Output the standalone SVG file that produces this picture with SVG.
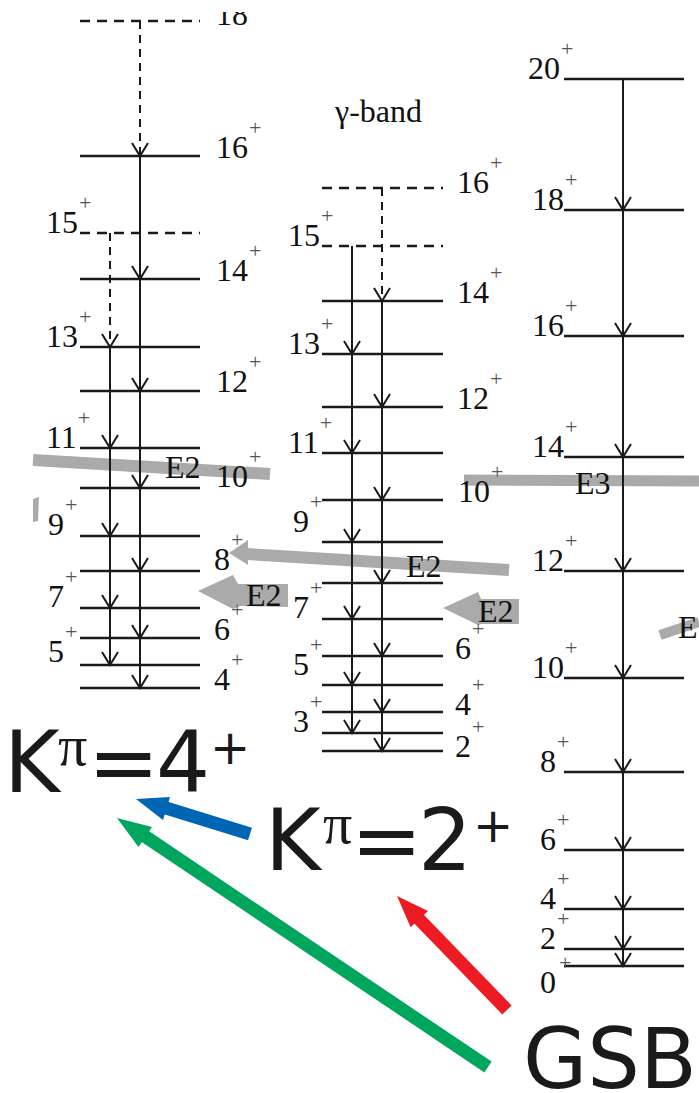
<svg xmlns="http://www.w3.org/2000/svg" width="699" height="1093" viewBox="0 0 699 1093">
<style>
.lv{stroke:#1a1a1a;stroke-width:2.5;fill:none}
.lvd{stroke-dasharray:10 7}
.tr{stroke:#1a1a1a;stroke-width:2;fill:none;marker-end:url(#v)}
.trd{stroke-dasharray:8 6}
.lb{font-family:"Liberation Serif","Times New Roman",serif;font-size:32px;fill:#111}
.sup{font-size:22px;fill:#555}
.gr{stroke:#aaa;fill:none}
.gf{fill:#aaa}
.big{font-family:"DejaVu Sans",sans-serif;font-size:85px;fill:#1a1a1a}
.pi{font-family:"Liberation Serif",serif;font-size:58px;fill:#1a1a1a}
.bsup{font-family:"DejaVu Sans",sans-serif;font-size:48px;fill:#1a1a1a}
</style>
<defs>
<marker id="v" markerUnits="userSpaceOnUse" orient="auto" refX="0" refY="0" markerWidth="20" markerHeight="20" overflow="visible">
<path d="M-13,-8 L0,0 L-13,8" fill="none" stroke="#1a1a1a" stroke-width="2"/>
</marker>
<clipPath id="topclip"><rect x="0" y="12" width="699" height="1081"/></clipPath>
</defs>
<rect width="699" height="1093" fill="#fff"/>

<g id="gray-transitions">
<line class="gr" x1="33" y1="460" x2="270" y2="474" stroke-width="12"/>
<polygon class="gf" points="33,499 39,497 38,521 33,522"/>
<line class="gr" x1="246" y1="554" x2="509" y2="570" stroke-width="12"/>
<polygon class="gf" points="229,553 248,540 248,565"/>
<polygon class="gf" points="198,591 233,575 238,584 288,584 288,607 240,606 233,609"/>
<polygon class="gf" points="443,608 478,592 481,599 519,599 519,624 481,624 478,625"/>
<line class="gr" x1="464" y1="480" x2="699" y2="481" stroke-width="11"/>
<line class="gr" x1="660" y1="635" x2="699" y2="622" stroke-width="10"/>
</g>

<g id="band-K4">
<line class="lv lvd" x1="80" y1="21" x2="200" y2="21"/>
<line class="lv" x1="80" y1="156" x2="200" y2="156"/>
<line class="lv lvd" x1="80" y1="233" x2="200" y2="233"/>
<line class="lv" x1="80" y1="279" x2="200" y2="279"/>
<line class="lv" x1="80" y1="347" x2="200" y2="347"/>
<line class="lv" x1="80" y1="391" x2="200" y2="391"/>
<line class="lv" x1="80" y1="448" x2="200" y2="448"/>
<line class="lv" x1="80" y1="488" x2="200" y2="488"/>
<line class="lv" x1="80" y1="536" x2="200" y2="536"/>
<line class="lv" x1="80" y1="571" x2="200" y2="571"/>
<line class="lv" x1="80" y1="608" x2="200" y2="608"/>
<line class="lv" x1="80" y1="638" x2="200" y2="638"/>
<line class="lv" x1="80" y1="665" x2="200" y2="665"/>
<line class="lv" x1="80" y1="688" x2="200" y2="688"/>
<text class="lb" x="216" y="25" clip-path="url(#topclip)">18</text>
<text class="lb" x="216" y="158">16<tspan class="sup" dx="1" dy="-23">+</tspan></text>
<text class="lb" x="46" y="233">15<tspan class="sup" dx="1" dy="-23">+</tspan></text>
<text class="lb" x="216" y="281">14<tspan class="sup" dx="1" dy="-23">+</tspan></text>
<text class="lb" x="46" y="347">13<tspan class="sup" dx="1" dy="-23">+</tspan></text>
<text class="lb" x="216" y="392">12<tspan class="sup" dx="1" dy="-23">+</tspan></text>
<text class="lb" x="46" y="448">11<tspan class="sup" dx="1" dy="-23">+</tspan></text>
<text class="lb" x="216" y="487">10<tspan class="sup" dx="1" dy="-23">+</tspan></text>
<text class="lb" x="48" y="535">9<tspan class="sup" dx="1" dy="-23">+</tspan></text>
<text class="lb" x="214" y="570">8<tspan class="sup" dx="1" dy="-23">+</tspan></text>
<text class="lb" x="48" y="607">7<tspan class="sup" dx="1" dy="-23">+</tspan></text>
<text class="lb" x="214" y="640">6<tspan class="sup" dx="1" dy="-23">+</tspan></text>
<text class="lb" x="48" y="662">5<tspan class="sup" dx="1" dy="-23">+</tspan></text>
<text class="lb" x="214" y="690">4<tspan class="sup" dx="1" dy="-23">+</tspan></text>
</g>

<g id="band-gamma">
<text class="lb" x="335" y="122" style="font-size:32px">γ-band</text>
<line class="lv lvd" x1="322" y1="188" x2="443" y2="188"/>
<line class="lv lvd" x1="322" y1="246" x2="443" y2="246"/>
<line class="lv" x1="322" y1="301" x2="443" y2="301"/>
<line class="lv" x1="322" y1="354" x2="443" y2="354"/>
<line class="lv" x1="322" y1="407" x2="443" y2="407"/>
<line class="lv" x1="322" y1="453" x2="443" y2="453"/>
<line class="lv" x1="322" y1="500" x2="443" y2="500"/>
<line class="lv" x1="322" y1="542" x2="443" y2="542"/>
<line class="lv" x1="322" y1="583" x2="443" y2="583"/>
<line class="lv" x1="322" y1="619" x2="443" y2="619"/>
<line class="lv" x1="322" y1="656" x2="443" y2="656"/>
<line class="lv" x1="322" y1="685" x2="443" y2="685"/>
<line class="lv" x1="322" y1="712" x2="443" y2="712"/>
<line class="lv" x1="322" y1="733" x2="443" y2="733"/>
<line class="lv" x1="322" y1="751" x2="443" y2="751"/>
<text class="lb" x="457" y="193">16<tspan class="sup" dx="1" dy="-23">+</tspan></text>
<text class="lb" x="288" y="246">15<tspan class="sup" dx="1" dy="-23">+</tspan></text>
<text class="lb" x="457" y="303">14<tspan class="sup" dx="1" dy="-23">+</tspan></text>
<text class="lb" x="288" y="354">13<tspan class="sup" dx="1" dy="-23">+</tspan></text>
<text class="lb" x="457" y="409">12<tspan class="sup" dx="1" dy="-23">+</tspan></text>
<text class="lb" x="288" y="453">11<tspan class="sup" dx="1" dy="-23">+</tspan></text>
<text class="lb" x="458" y="502">10<tspan class="sup" dx="1" dy="-23">+</tspan></text>
<text class="lb" x="293" y="532">9<tspan class="sup" dx="1" dy="-23">+</tspan></text>
<text class="lb" x="293" y="618">7<tspan class="sup" dx="1" dy="-23">+</tspan></text>
<text class="lb" x="455" y="659">6<tspan class="sup" dx="1" dy="-23">+</tspan></text>
<text class="lb" x="293" y="675">5<tspan class="sup" dx="1" dy="-23">+</tspan></text>
<text class="lb" x="455" y="715">4<tspan class="sup" dx="1" dy="-23">+</tspan></text>
<text class="lb" x="293" y="732">3<tspan class="sup" dx="1" dy="-23">+</tspan></text>
<text class="lb" x="455" y="757">2<tspan class="sup" dx="1" dy="-23">+</tspan></text>
</g>

<g id="band-GSB">
<line class="lv" x1="564" y1="79" x2="684" y2="79"/>
<line class="lv" x1="564" y1="210" x2="684" y2="210"/>
<line class="lv" x1="564" y1="336" x2="684" y2="336"/>
<line class="lv" x1="564" y1="457" x2="684" y2="457"/>
<line class="lv" x1="564" y1="571" x2="684" y2="571"/>
<line class="lv" x1="564" y1="678" x2="684" y2="678"/>
<line class="lv" x1="564" y1="772" x2="684" y2="772"/>
<line class="lv" x1="564" y1="850" x2="684" y2="850"/>
<line class="lv" x1="564" y1="909" x2="684" y2="909"/>
<line class="lv" x1="564" y1="949" x2="684" y2="949"/>
<line class="lv" x1="564" y1="966" x2="684" y2="966"/>
<text class="lb" x="528" y="79">20<tspan class="sup" dx="1" dy="-23">+</tspan></text>
<text class="lb" x="532" y="210">18<tspan class="sup" dx="1" dy="-23">+</tspan></text>
<text class="lb" x="532" y="336">16<tspan class="sup" dx="1" dy="-23">+</tspan></text>
<text class="lb" x="532" y="457">14<tspan class="sup" dx="1" dy="-23">+</tspan></text>
<text class="lb" x="532" y="571">12<tspan class="sup" dx="1" dy="-23">+</tspan></text>
<text class="lb" x="532" y="678">10<tspan class="sup" dx="1" dy="-23">+</tspan></text>
<text class="lb" x="540" y="772">8<tspan class="sup" dx="1" dy="-23">+</tspan></text>
<text class="lb" x="540" y="850">6<tspan class="sup" dx="1" dy="-23">+</tspan></text>
<text class="lb" x="540" y="909">4<tspan class="sup" dx="1" dy="-23">+</tspan></text>
<text class="lb" x="540" y="949">2<tspan class="sup" dx="1" dy="-23">+</tspan></text>
<text class="lb" x="540" y="993">0<tspan class="sup" dx="3" dy="-23">+</tspan></text>
</g>

<g id="connectors">
<line class="tr trd" x1="140" y1="21" x2="140" y2="156"/>
<line class="tr" x1="140" y1="156" x2="140" y2="279"/>
<line class="tr" x1="140" y1="279" x2="140" y2="391"/>
<line class="tr" x1="140" y1="391" x2="140" y2="488"/>
<line class="tr" x1="140" y1="488" x2="140" y2="571"/>
<line class="tr" x1="140" y1="571" x2="140" y2="638"/>
<line class="tr" x1="140" y1="638" x2="140" y2="688"/>
<line class="tr trd" x1="110" y1="233" x2="110" y2="347"/>
<line class="tr" x1="110" y1="347" x2="110" y2="448"/>
<line class="tr" x1="110" y1="448" x2="110" y2="536"/>
<line class="tr" x1="110" y1="536" x2="110" y2="608"/>
<line class="tr" x1="110" y1="608" x2="110" y2="665"/>

<line class="tr trd" x1="382" y1="188" x2="382" y2="301"/>
<line class="tr" x1="382" y1="301" x2="382" y2="407"/>
<line class="tr" x1="382" y1="407" x2="382" y2="500"/>
<line class="tr" x1="382" y1="500" x2="382" y2="583"/>
<line class="tr" x1="382" y1="583" x2="382" y2="656"/>
<line class="tr" x1="382" y1="656" x2="382" y2="712"/>
<line class="tr" x1="382" y1="712" x2="382" y2="751"/>
<line class="tr" x1="352" y1="246" x2="352" y2="354"/>
<line class="tr" x1="352" y1="354" x2="352" y2="453"/>
<line class="tr" x1="352" y1="453" x2="352" y2="542"/>
<line class="tr" x1="352" y1="542" x2="352" y2="619"/>
<line class="tr" x1="352" y1="619" x2="352" y2="685"/>
<line class="tr" x1="352" y1="685" x2="352" y2="733"/>

<line class="tr" x1="623" y1="79" x2="623" y2="210"/>
<line class="tr" x1="623" y1="210" x2="623" y2="336"/>
<line class="tr" x1="623" y1="336" x2="623" y2="457"/>
<line class="tr" x1="623" y1="457" x2="623" y2="571"/>
<line class="tr" x1="623" y1="571" x2="623" y2="678"/>
<line class="tr" x1="623" y1="678" x2="623" y2="772"/>
<line class="tr" x1="623" y1="772" x2="623" y2="850"/>
<line class="tr" x1="623" y1="850" x2="623" y2="909"/>
<line class="tr" x1="623" y1="909" x2="623" y2="949"/>
<line class="tr" x1="623" y1="949" x2="623" y2="966"/>

<line x1="166" y1="808" x2="250" y2="834" stroke="#0066b3" stroke-width="13"/>
<polygon points="136,799 170,797 163,820" fill="#0066b3"/>
<line x1="143" y1="835" x2="488" y2="1067" stroke="#00a65d" stroke-width="13"/>
<polygon points="117,818 152,827 138.5,847" fill="#00a65d"/>
<line x1="417" y1="917" x2="507" y2="1010" stroke="#ed1c24" stroke-width="13"/>
<polygon points="397,896 428,911 410.6,927.3" fill="#ed1c24"/>
</g>

<g id="gray-labels">
<text class="lb" x="165" y="478">E2</text>
<text class="lb" x="406" y="577">E2</text>
<text class="lb" x="246" y="606">E2</text>
<text class="lb" x="478" y="622">E2</text>
<text class="lb" x="575" y="494">E3</text>
<text class="lb" x="678" y="638">E</text>
</g>

<g id="label-K4">
<text class="big" x="4" y="792">K</text>
<text class="pi" x="58" y="765">π</text>
<text class="big" x="88" y="792">=</text>
<text class="big" x="156" y="792">4</text>
<text class="bsup" x="210" y="764">+</text>
</g>
<g id="label-K2">
<text class="big" x="265" y="870">K</text>
<text class="pi" x="323" y="843">π</text>
<text class="big" x="351" y="870">=</text>
<text class="big" x="418" y="870">2</text>
<text class="bsup" x="473" y="842">+</text>
</g>
<g id="label-GSB">
<text class="big" x="523" y="1088" style="font-size:83px">GSB</text>
</g>
</svg>
